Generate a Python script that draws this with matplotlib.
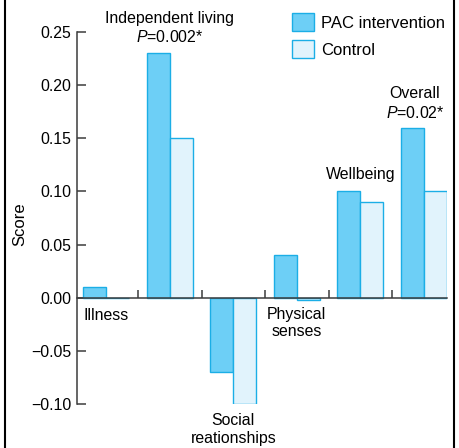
import matplotlib
matplotlib.use("Agg")
import matplotlib.pyplot as plt
from matplotlib.lines import Line2D
import numpy as np

plt.rcParams['font.family'] = ['Liberation Sans', 'DejaVu Sans']
plt.rcParams['mathtext.fontset'] = 'custom'
plt.rcParams['mathtext.rm'] = 'Liberation Sans'
plt.rcParams['mathtext.it'] = 'Liberation Sans:italic'

categories = ["Illness", "Independent living", "Social\nreationships",
              "Physical\nsenses", "Wellbeing", "Overall"]
pac_values = [0.01, 0.23, -0.07, 0.04, 0.10, 0.16]
control_values = [0.0, 0.15, -0.10, -0.002, 0.09, 0.10]
series_names = ["PAC intervention", "Control"]
yticks = [-0.10, -0.05, 0.00, 0.05, 0.10, 0.15, 0.20, 0.25]

W, H = 459, 448
fig = plt.figure(figsize=(W / 100, H / 100), dpi=100)
ax = fig.add_axes([77 / W, (H - 404) / H, (447 - 77) / W, (404 - 32) / H])

edge = "#1BAEE6"
pac_color = "#6DCFF6"
ctl_color = "#E1F3FC"
axis_color = "#3c3c3c"

x = np.arange(len(categories))
bw = 0.36
ax.bar(x, pac_values, width=-bw, align='edge', color=pac_color,
       edgecolor=edge, linewidth=1.0, label=series_names[0], zorder=2)
ax.bar(x, control_values, width=bw, align='edge', color=ctl_color,
       edgecolor=edge, linewidth=1.0, label=series_names[1], zorder=2)

ax.set_xlim(-0.461, 5.366)
ax.set_ylim(-0.10, 0.25)

for s in ['top', 'right']:
    ax.spines[s].set_visible(False)
ax.spines['bottom'].set_position(('data', 0))
ax.spines['left'].set_bounds(-0.10, 0.25)
for s in ['left', 'bottom']:
    ax.spines[s].set_color(axis_color)
    ax.spines[s].set_linewidth(1.1)
    ax.spines[s].set_zorder(3)

ax.set_xticks(np.arange(0.5, len(categories) - 0.5, 1.0))
ax.set_xticklabels([])
ax.tick_params(axis='x', direction='in', length=5.8, width=1.1, color=axis_color)
ax.set_yticks(yticks)
ax.set_yticklabels([f"{v:.2f}".replace("-", "\u2212") for v in yticks])
ax.tick_params(axis='y', direction='in', length=6.5, width=1.1, color=axis_color,
               labelsize=11.4, pad=4)

ax.set_ylabel("Score", fontsize=12)
ax.yaxis.set_label_coords(-0.1351, 0.484)

fs = 11.4
# category labels
ax.text(0, -0.017, categories[0], ha='center', va='center', fontsize=fs)
ax.text(1, 0.263, "Independent living", ha='center', va='center', fontsize=fs)
ax.text(1, 0.245, "$P$=0.002*", ha='center', va='center', fontsize=fs)
ax.text(2, -0.124, categories[2], ha='center', va='center', fontsize=fs,
        linespacing=1.25)
ax.text(3, -0.024, categories[3], ha='center', va='center', fontsize=fs,
        linespacing=1.2)
ax.text(4, 0.1156, categories[4], ha='center', va='center', fontsize=fs)
ax.text(4.86, 0.192, "Overall", ha='center', va='center', fontsize=fs)
ax.text(4.86, 0.174, "$P$=0.02*", ha='center', va='center', fontsize=fs)

ax.legend(loc='upper left', bbox_to_anchor=(292 / W, 1 - 13 / H),
          bbox_transform=fig.transFigure, frameon=False, fontsize=12,
          borderpad=0, borderaxespad=0, handlelength=1.3, handleheight=1.3,
          handletextpad=0.45, labelspacing=0.55)

# frame side lines
fig.add_artist(Line2D([5 / W, 5 / W], [0, 1], color='black', linewidth=1.5))
fig.add_artist(Line2D([454 / W, 454 / W], [0, 1], color='black', linewidth=1.5))

fig.savefig("out.png", dpi=100)
